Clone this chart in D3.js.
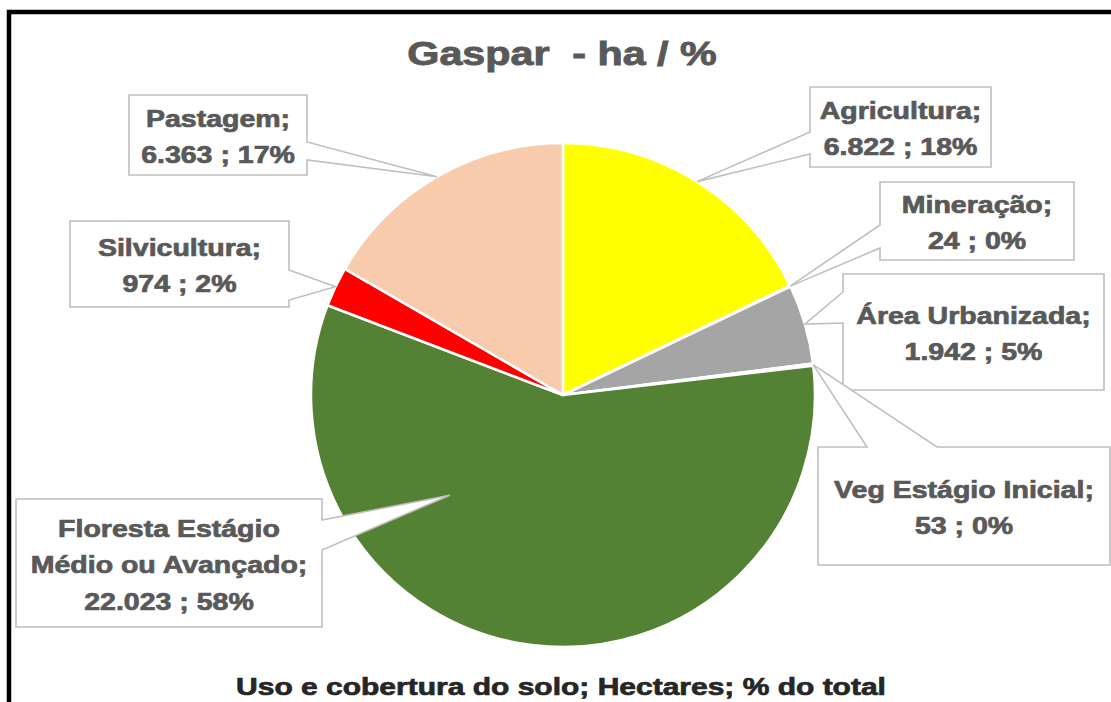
<!DOCTYPE html>
<html lang="pt-BR">
<head>
<meta charset="utf-8">
<title>Gaspar - ha / %</title>
<script src="https://cdn.jsdelivr.net/npm/d3@7/dist/d3.min.js"></script>
<style>
  html, body { margin: 0; padding: 0; background: #fff; }
  svg { display: block; }
  text { font-family: "Liberation Sans", Arial, sans-serif; font-weight: bold; white-space: pre; paint-order: stroke; }
</style>
</head>
<body>
<svg id="chart" width="1111" height="702"></svg>
<script>
// Uso e cobertura do solo em Gaspar (hectares e % do total)
const categories = [
  "Agricultura",
  "Mineração",
  "Área Urbanizada",
  "Veg Estágio Inicial",
  "Floresta Estágio Médio ou Avançado",
  "Silvicultura",
  "Pastagem"
];
const hectares = [6822, 24, 1942, 53, 22023, 974, 6363];
const percentLabels = [18, 0, 5, 0, 58, 2, 17];
const sliceColors = ["#FFFF00", "#843C0C", "#A5A5A5", "#A9D18E", "#548235", "#FF0000", "#F8CBAD"];

// Callout boxes: name lines, box rectangle, side the pointer leaves from,
// pointer base along that side, and where the pointer tip lands in the pie.
const nameLines = [
  ["Agricultura;"],
  ["Mineração;"],
  ["Área Urbanizada;"],
  ["Veg Estágio Inicial;"],
  ["Floresta Estágio", "Médio ou Avançado;"],
  ["Silvicultura;"],
  ["Pastagem;"]
];
const callouts = [
  { x: 810, y: 87,  w: 181, h: 80,  side: "left",  base: [132, 154] },
  { x: 880, y: 182, w: 194, h: 78,  side: "left",  base: [225, 248] },
  { x: 843, y: 274, w: 261, h: 116, side: "left",  base: [292, 323] },
  { x: 818, y: 447, w: 292, h: 118, side: "top",   base: [867, 937] },
  { x: 16,  y: 499, w: 306, h: 128, side: "right", base: [520, 550], tipAngle: 228.5, tipR: 0.6 },
  { x: 70,  y: 221, w: 219, h: 86,  side: "right", base: [270, 300] },
  { x: 129, y: 95,  w: 178, h: 80,  side: "right", base: [142, 160] }
];

const W = 1111, H = 702;
const cx = 563, cy = 395, R = 252;
const textGray = "#595959";
const stretch = 1.24;

const ptBR = d3.formatLocale({ decimal: ",", thousands: ".", grouping: [3], currency: ["R$", ""] });
const fmt = ptBR.format(",d");

const svg = d3.select("#chart");

svg.append("rect").attr("width", W).attr("height", H).attr("fill", "#fff");

// outer frame
svg.append("rect")
  .attr("x", 9).attr("y", 12)
  .attr("width", 1300).attr("height", 900)
  .attr("fill", "none")
  .attr("stroke", "#000")
  .attr("stroke-width", 4.5);

// title
svg.append("text")
  .attr("transform", `translate(562,65) scale(${stretch + 0.01},1)`)
  .attr("text-anchor", "middle")
  .attr("font-size", 33)
  .attr("fill", textGray)
  .attr("stroke", textGray)
  .attr("stroke-width", 0.9)
  .text("Gaspar  - ha / %");

// pie
const data = categories.map((c, i) => ({ name: c, value: hectares[i], pct: percentLabels[i], color: sliceColors[i] }));
const pie = d3.pie().sort(null).value(d => d.value).startAngle(0).endAngle(2 * Math.PI);
const arcs = pie(data);
const arc = d3.arc().innerRadius(0).outerRadius(R);

const g = svg.append("g").attr("transform", `translate(${cx},${cy})`);
g.selectAll("path.slice")
  .data(arcs)
  .join("path")
  .attr("class", "slice")
  .attr("d", arc)
  .attr("fill", d => d.data.color)
  .attr("stroke", "#fff")
  .attr("stroke-width", 2.5)
  .attr("stroke-linejoin", "round");

// callouts
function polar(angleRad, r) {
  return [cx + Math.sin(angleRad) * r, cy - Math.cos(angleRad) * r];
}

function calloutPath(c, tip) {
  const { x, y, w, h } = c;
  const [a, b] = c.base;
  const [tx, ty] = tip;
  if (c.side === "left") {
    return `M${x},${y}L${x + w},${y}L${x + w},${y + h}L${x},${y + h}L${x},${b}L${tx},${ty}L${x},${a}Z`;
  } else if (c.side === "right") {
    return `M${x},${y}L${x + w},${y}L${x + w},${a}L${tx},${ty}L${x + w},${b}L${x + w},${y + h}L${x},${y + h}Z`;
  }
  // top
  return `M${x},${y}L${a},${y}L${tx},${ty}L${b},${y}L${x + w},${y}L${x + w},${y + h}L${x},${y + h}Z`;
}

const fs = 23, lineH = 36.5;
const labels = svg.append("g");
arcs.forEach((d, i) => {
  const c = callouts[i];
  const mid = (d.startAngle + d.endAngle) / 2;
  const ang = c.tipAngle !== undefined ? c.tipAngle * Math.PI / 180 : mid;
  const tip = polar(ang, R * (c.tipR !== undefined ? c.tipR : 1));

  labels.append("path")
    .attr("d", calloutPath(c, tip))
    .attr("fill", "#fff")
    .attr("stroke", "#BFBFBF")
    .attr("stroke-width", 1.6)
    .attr("stroke-linejoin", "miter");

  const lines = nameLines[i].concat([`${fmt(d.data.value)} ; ${d.data.pct}%`]);
  const bx = c.x + c.w / 2, by = c.y + c.h / 2 + 2;
  lines.forEach((t, k) => {
    const lc = by + (k - (lines.length - 1) / 2) * lineH;
    labels.append("text")
      .attr("transform", `translate(${bx},${lc + 0.358 * fs}) scale(${stretch},1)`)
      .attr("text-anchor", "middle")
      .attr("font-size", fs)
      .attr("fill", textGray)
      .attr("stroke", textGray)
      .attr("stroke-width", 0.7)
      .text(t);
  });
});

// footer caption
svg.append("text")
  .attr("transform", `translate(561,695) scale(${stretch + 0.01},1)`)
  .attr("text-anchor", "middle")
  .attr("font-size", 24)
  .attr("fill", "#262626")
  .attr("stroke", "#262626")
  .attr("stroke-width", 0.7)
  .text("Uso e cobertura do solo; Hectares; % do total");
</script>
</body>
</html>
